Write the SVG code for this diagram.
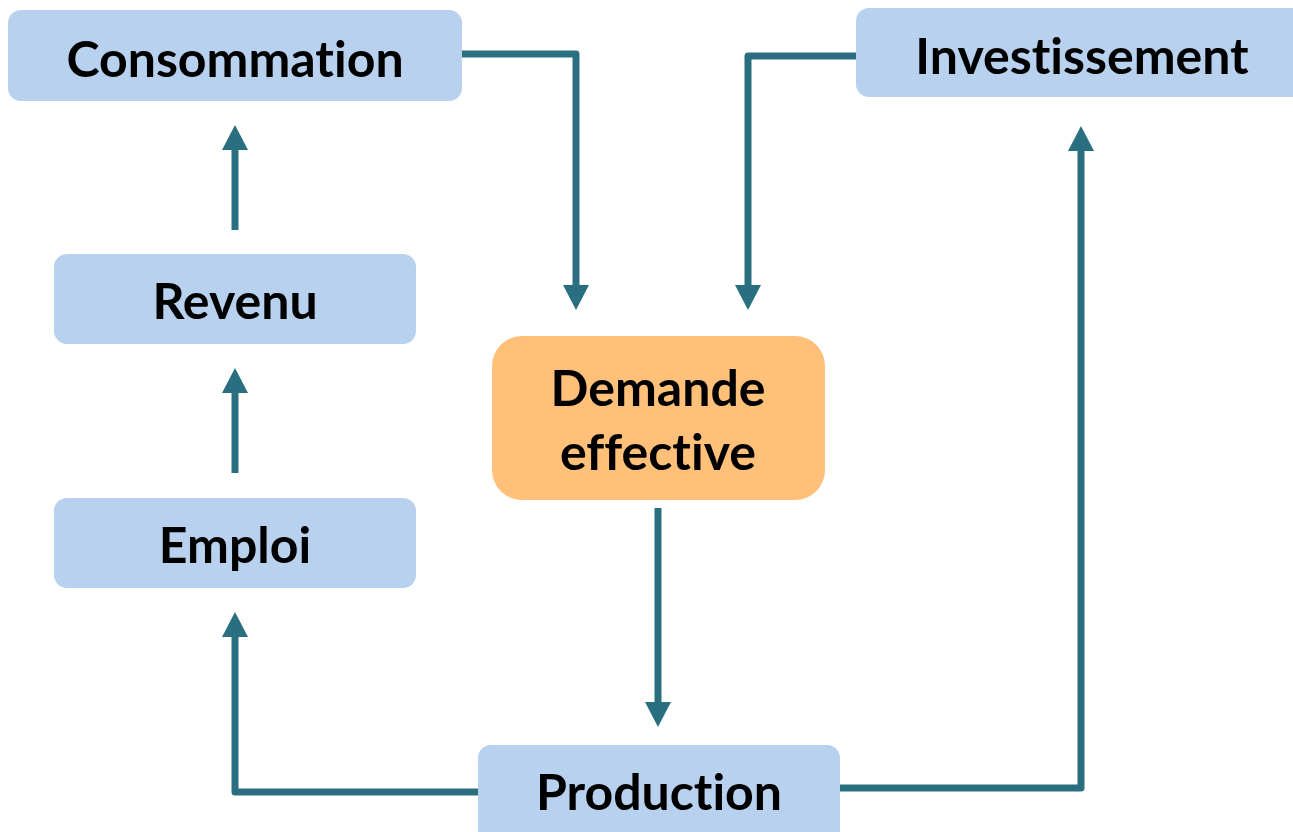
<svg xmlns="http://www.w3.org/2000/svg" width="1293" height="832" viewBox="0 0 1293 832">
  <style>
    .box { fill: #B8D1EE; }
    .hub { fill: #FFC07A; }
    .label { font-family: Lato, "Open Sans", "Liberation Sans", sans-serif; font-weight: 700; font-size: 50px; fill: #000; text-anchor: middle; font-variant-ligatures: none; }
    .wire { fill: none; stroke: #2A6F80; stroke-width: 7; stroke-linejoin: round; marker-end: url(#head); }
  </style>
  <defs>
    <marker id="head" viewBox="0 0 25 26" refX="0" refY="13" markerWidth="25" markerHeight="26" markerUnits="userSpaceOnUse" orient="auto">
      <path d="M0,0 L25,13 L0,26 Z" fill="#2A6F80"/>
    </marker>
  </defs>
  <rect width="1293" height="832" fill="#fff"/>

  <g id="connectors">
    <!-- Consommation to Demande effective -->
    <path class="wire" d="M462,54 H576 V285"/>
    <!-- Investissement to Demande effective -->
    <path class="wire" d="M856,56 H748 V285"/>
    <!-- Demande effective to Production -->
    <path class="wire" d="M658,508 V702"/>
    <!-- Production to Emploi -->
    <path class="wire" d="M478,792 H235 V637"/>
    <!-- Production to Investissement -->
    <path class="wire" d="M840,788 H1081 V151"/>
    <!-- Emploi to Revenu -->
    <path class="wire" d="M235,473 V393"/>
    <!-- Revenu to Consommation -->
    <path class="wire" d="M235,230 V150"/>
  </g>

  <g id="consommation">
    <rect class="box" x="8" y="10" width="454" height="91" rx="13"/>
    <text class="label" x="235" y="77">Consommation</text>
  </g>
  <g id="investissement">
    <rect class="box" x="856" y="8" width="450" height="89" rx="13"/>
    <text class="label" x="1082" y="74">Investissement</text>
  </g>
  <g id="revenu">
    <rect class="box" x="54" y="254" width="362" height="90" rx="13"/>
    <text class="label" x="235" y="319">Revenu</text>
  </g>
  <g id="emploi">
    <rect class="box" x="54" y="498" width="362" height="90" rx="13"/>
    <text class="label" x="235" y="563">Emploi</text>
  </g>
  <g id="demande">
    <rect class="hub" x="492" y="336" width="333" height="164" rx="30"/>
    <text class="label" x="658" y="406">Demande</text>
    <text class="label" x="658" y="470">effective</text>
  </g>
  <g id="production">
    <rect class="box" x="478" y="745" width="362" height="100" rx="13"/>
    <text class="label" x="659" y="810">Production</text>
  </g>
</svg>
